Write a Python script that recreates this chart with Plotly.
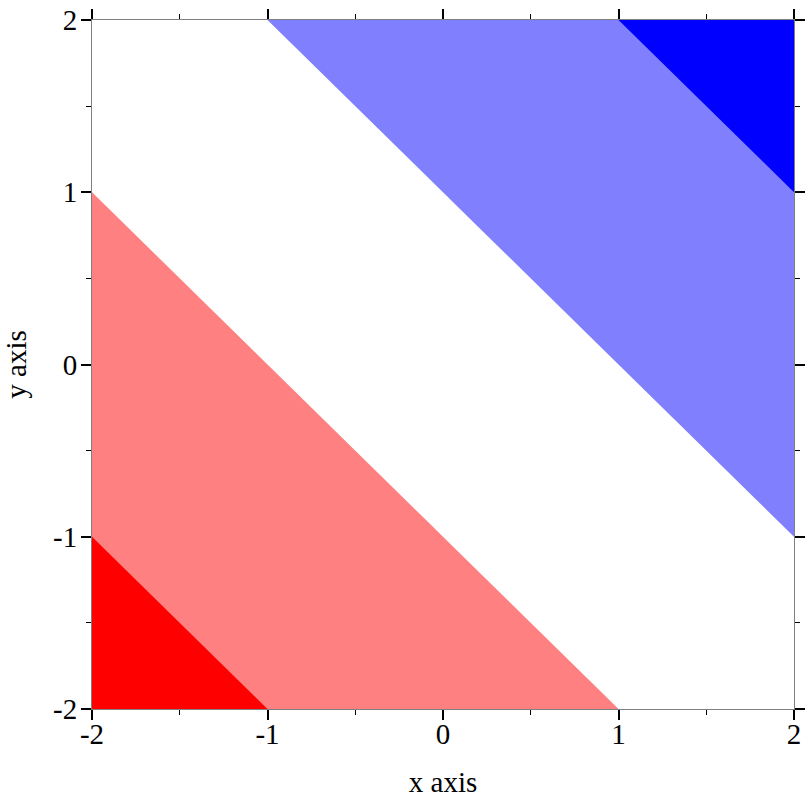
import plotly.graph_objects as go

# grid of the plotted function z = x + y (sampled values)
x_vals = [-2, -1, 0, 1, 2]
y_vals = [-2, -1, 0, 1, 2]
z_vals = [
    [-4, -3, -2, -1, 0],
    [-3, -2, -1, 0, 1],
    [-2, -1, 0, 1, 2],
    [-1, 0, 1, 2, 3],
    [0, 1, 2, 3, 4],
]
levels_start, levels_end, levels_step = -3, 3, 2
band_colors = ["#ff0000", "#ff8080", "#ffffff", "#8080ff", "#0000ff"]
tick_vals = [-2, -1, 0, 1, 2]
tick_text = ["-2", "-1", "0", "1", "2"]

n = len(band_colors)
colorscale = []
for i, c in enumerate(band_colors):
    colorscale.append([i / n, c])
    colorscale.append([(i + 1) / n, c])

FONT = "Liberation Serif, Times New Roman, serif"
FS = 29

fig = go.Figure()
fig.add_trace(go.Contour(
    x=x_vals, y=y_vals, z=z_vals,
    contours=dict(start=levels_start, end=levels_end, size=levels_step, coloring="fill"),
    colorscale=colorscale, zauto=False, zmin=-5, zmax=5,
    line=dict(width=0), showscale=False, hoverinfo="skip",
))

axis_common = dict(
    range=[-2, 2], showgrid=False, zeroline=False, automargin=False,
    showline=True, linecolor="#808080", linewidth=1, mirror="allticks",
    ticks="outside", ticklen=10, tickwidth=2, tickcolor="black",
    tickvals=tick_vals, ticktext=tick_text, ticklabeloverflow="allow",
    tickfont=dict(family=FONT, size=FS, color="black"),
    minor=dict(dtick=0.5, ticks="outside", ticklen=5, tickwidth=1, tickcolor="black", showgrid=False),
)

corner = dict(range=[-2, 2], ticks="inside", ticklen=11, tickwidth=2, tickcolor="black",
              showticklabels=False, showgrid=False, zeroline=False, showline=False, automargin=False)

fig.update_layout(
    width=812, height=812,
    margin=dict(l=92, r=18, t=20, b=103),
    paper_bgcolor="white", plot_bgcolor="white",
    font=dict(family=FONT, size=FS, color="black"),
    showlegend=False,
    xaxis=dict(**axis_common, ticklabelstandoff=-11,
               title=dict(text="x axis", font=dict(family=FONT, size=FS), standoff=22)),
    yaxis=dict(**axis_common, ticklabelstandoff=-2,
               title=dict(text="y axis", font=dict(family=FONT, size=FS), standoff=22)),
    # inward corner tick marks along the frame
    xaxis2=dict(overlaying="x", anchor="y", side="top", tickvals=[-2, 2], **corner),
    xaxis3=dict(overlaying="x", anchor="y", side="bottom", tickvals=[2], **corner),
    yaxis2=dict(overlaying="y", anchor="x", side="left", tickvals=[-2, 2], mirror="ticks", **corner),
)

fig.write_html("out.html",
               config={"displayModeBar": False, "staticPlot": True},
               post_script="document.body.style.margin='0';document.body.style.overflow='hidden';")
